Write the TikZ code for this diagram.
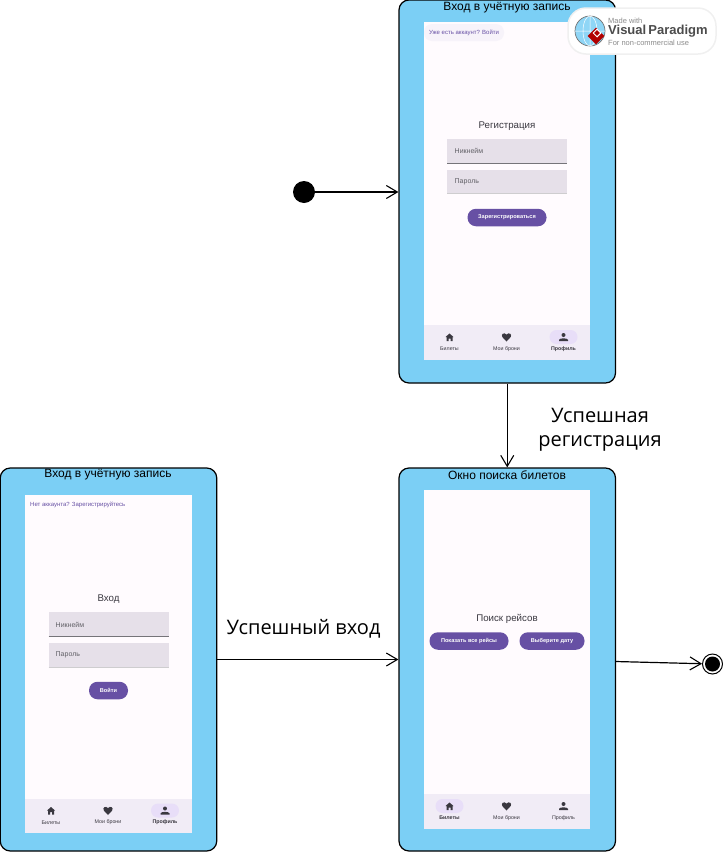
\documentclass[tikz,border=0pt]{standalone}
\usepackage{fontspec}
\setmainfont{Liberation Sans}
\newfontfamily\labelfont{Open Sans}
\usetikzlibrary{positioning}
\usetikzlibrary{arrows.meta}
\usetikzlibrary{shapes.geometric}
\definecolor{winblue}{HTML}{7BCFF5}
\definecolor{screenbg}{HTML}{FFFBFE}
\definecolor{navbg}{HTML}{F1ECF6}
\definecolor{navpill}{HTML}{E8DEF8}
\definecolor{fieldbg}{HTML}{E6E0E9}
\definecolor{btnpurple}{HTML}{6750A4}
\definecolor{icondark}{HTML}{3A3840}
\definecolor{vpgray}{HTML}{8C8C8C}
\tikzset{
 statewin/.style={draw=black,line width=1.2pt,fill=winblue,rounded corners=10pt,minimum width=216.5pt,minimum height=383pt,inner sep=0pt},
 wintitle/.style={inner sep=0pt,font=\fontsize{12}{12}\selectfont},
 screenbox/.style={fill=screenbg,minimum width=166.5pt,minimum height=338.5pt,inner sep=0pt},
 navbar/.style={fill=navbg,minimum width=166.5pt,minimum height=34.5pt,inner sep=0pt},
 heading/.style={inner sep=0pt,text=icondark,font=\fontsize{9.7}{11}\selectfont},
 fieldbox/.style={fill=fieldbg,minimum width=120pt,minimum height=23.5pt,inner sep=0pt},
 fieldtext/.style={inner sep=0pt,text=icondark!80,font=\fontsize{7}{7}\selectfont},
 pillbtn/.style={fill=btnpurple,rounded corners=8.5pt,minimum height=17.5pt,inner sep=0pt,text=white,font=\bfseries\fontsize{5.6}{6}\selectfont},
 linktext/.style={inner sep=0pt,text=btnpurple,font=\fontsize{6}{6}\selectfont},
 navtext/.style={inner sep=0pt,text=icondark,font=\fontsize{5.3}{6}\selectfont},
 flow/.style={line width=1.2pt,-{Straight Barb[length=11pt,width=13pt,line width=1.1pt]}},
 flowlabel/.style={inner sep=0pt,align=center,font=\labelfont\fontsize{20}{24}\selectfont},
 vptext/.style={inner sep=0pt,anchor=west,text=vpgray},
}
% one bottom bar: x and y of its top left corner, name, which tab is on
\newcommand{\navrow}[4]{
 \node[navbar,anchor=north west] (#3bar) at (#1,#2) {};
 \fill[navpill,rounded corners=7pt] (#1+26+#4*57-14,#2+5) rectangle (#1+26+#4*57+14,#2+19);
 % home
 \fill[icondark] (#1+26,#2+8.5) -- (#1+30,#2+12) -- (#1+29,#2+12) -- (#1+29,#2+16) -- (#1+27,#2+16) -- (#1+27,#2+13.5) -- (#1+25,#2+13.5) -- (#1+25,#2+16) -- (#1+23,#2+16) -- (#1+23,#2+12) -- (#1+22,#2+12) -- cycle;
 % heart
 \fill[icondark] (#1+83,#2+16.5) -- (#1+78.8,#2+12) .. controls (#1+77,#2+8.8) and (#1+81,#2+7) .. (#1+83,#2+9.6) .. controls (#1+85,#2+7) and (#1+89,#2+8.8) .. (#1+87.2,#2+12) -- cycle;
 % person
 \fill[icondark] (#1+140,#2+10) circle (2pt);
 \fill[icondark] (#1+135.5,#2+16) -- (#1+135.5,#2+14.8) .. controls (#1+136.5,#2+12.8) and (#1+143.5,#2+12.8) .. (#1+144.5,#2+14.8) -- (#1+144.5,#2+16) -- cycle;
 \node[navtext] (#3tabone) at (#1+26,#2+24) {\ifnum#4=0\bfseries\fi Билеты};
 \node[navtext] (#3tabtwo) at (#1+83,#2+24) {Мои брони};
 \node[navtext] (#3tabthree) at (#1+140,#2+24) {\ifnum#4=2\bfseries\fi Профиль};
}
\begin{document}
\begin{tikzpicture}[x=1pt,y=-1pt]
 \useasboundingbox (0,0) rectangle (723,852);
 \node[statewin] (regwin) at (507.25,191.5) {};
 \node[statewin] (loginwin) at (108.5,659.5) {};
 \node[statewin] (searchwin) at (507.25,659.5) {};
 \node[wintitle] (regtitle) at (507,8) {Вход в учётную запись};
 \node[wintitle] (logintitle) at (108,475) {Вход в учётную запись};
 \node[wintitle] (searchtitle) at (507,475) {Окно поиска билетов};
 \node[screenbox,anchor=north west] (regscreen) at (423.5,21.5) {};
 \node[screenbox,anchor=north west] (loginscreen) at (25,494.5) {};
 \node[screenbox,anchor=north west] (searchscreen) at (423.5,490) {};
 \navrow{423.5}{325}{reg}{2}
 \navrow{25}{798.5}{login}{2}
 \navrow{423.5}{794}{search}{0}
 %registration form
 \fill[navbg!55!screenbg,rounded corners=8pt] (424,24) rectangle (504,41);
 \node[linktext] (reglink) at (464,33) {Уже есть аккаунт? Войти};
 \node[heading] (regheading) at (507,126.5) {Регистрация};
 \node[fieldbox,anchor=north west] (regnick) at (447,139) {};
 \draw[icondark!70,line width=.8pt] (regnick.south west)--(regnick.south east);
 \node[fieldtext,anchor=west] (regnicktext) at (454.5,151) {Никнейм};
 \node[fieldbox,anchor=north west] (regpass) at (447,169.5) {};
 \draw[icondark!25,line width=.8pt] (regpass.south west)--(regpass.south east);
 \node[fieldtext,anchor=west] (regpasstext) at (454.5,182) {Пароль};
 \node[pillbtn,minimum width=79pt] (regbtn) at (507,217.5) {Зарегистрироваться};
 %login form
 \node[linktext,anchor=west] (loginlink) at (30,505) {Нет аккаунта? Зарегистрируйтесь};
 \node[heading] (loginheading) at (108.5,599.5) {Вход};
 \node[fieldbox,anchor=north west] (loginnick) at (48.5,612) {};
 \draw[icondark!70,line width=.8pt] (loginnick.south west)--(loginnick.south east);
 \node[fieldtext,anchor=west] (loginnicktext) at (55.5,624.5) {Никнейм};
 \node[fieldbox,anchor=north west] (loginpass) at (48.5,643) {};
 \draw[icondark!25,line width=.8pt] (loginpass.south west)--(loginpass.south east);
 \node[fieldtext,anchor=west] (loginpasstext) at (55.5,655) {Пароль};
 \node[pillbtn,minimum width=39pt] (loginbtn) at (108.5,690.5) {Войти};
 %search form
 \node[heading] (searchheading) at (507,618.5) {Поиск рейсов};
 \node[pillbtn,minimum width=79pt] (allbtn) at (469,641) {Показать все рейсы};
 \node[pillbtn,minimum width=65pt] (datebtn) at (552,641) {Выберите дату};
 %start and end
 \node[circle,fill=black,minimum size=22pt,inner sep=0pt] (startstate) at (304,192) {};
 \node[circle,draw=black,line width=1pt,fill=white,minimum size=20pt,inner sep=0pt] (endstate) at (712.5,664) {};
 \node[circle,fill=black,minimum size=15pt,inner sep=0pt] (endcore) at (712.5,664) {};
 \coordinate (searchout) at (615.5,661.5);
 %transitions
 \draw[flow] (startstate) -- (startstate -| regwin.west);
 \draw[flow] (regwin.south) -- (searchwin.north);
 \draw[flow] (loginwin.east) -- (searchwin.west);
 \draw[flow] (searchout) -- (endstate);
 \node[flowlabel] (reglabel) at (600,430) {Успешная\\регистрация};
 \node[flowlabel] (loginlabel) at (303.5,628.5) {Успешный вход};
 %watermark
 \node[draw=black!6,line width=1.5pt,fill=white,rounded corners=18pt,minimum width=148pt,minimum height=46pt,inner sep=0pt] (vpbox) at (642,31) {};
 \node[circle,draw=black!55,line width=.7pt,fill=winblue!85,minimum size=30pt,inner sep=0pt] (vpglobe) at (590,31) {};
 \draw[white,line width=.5pt] (vpglobe.north) -- (vpglobe.south) (vpglobe.west) -- (vpglobe.east) (vpglobe.center) ellipse (7pt and 15pt);
 \node[diamond,fill=red!70!black,minimum size=17pt,inner sep=0pt] (vpmark) at (596,36) {};
 \node[diamond,draw=white,line width=1pt,minimum size=8pt,inner sep=0pt] (vpinner) at (597,33) {};
 \node[vptext,font=\fontsize{7.5}{8}\selectfont] (vpmade) at (608,20.5) {Made with};
 \node[vptext,text=black!70,font=\bfseries\fontsize{13}{13}\selectfont] (vpname) at (608,31) {Visual\,Paradigm};
 \node[vptext,font=\fontsize{7.5}{8}\selectfont] (vpuse) at (608,42.5) {For non-commercial use};
\end{tikzpicture}
\end{document}
